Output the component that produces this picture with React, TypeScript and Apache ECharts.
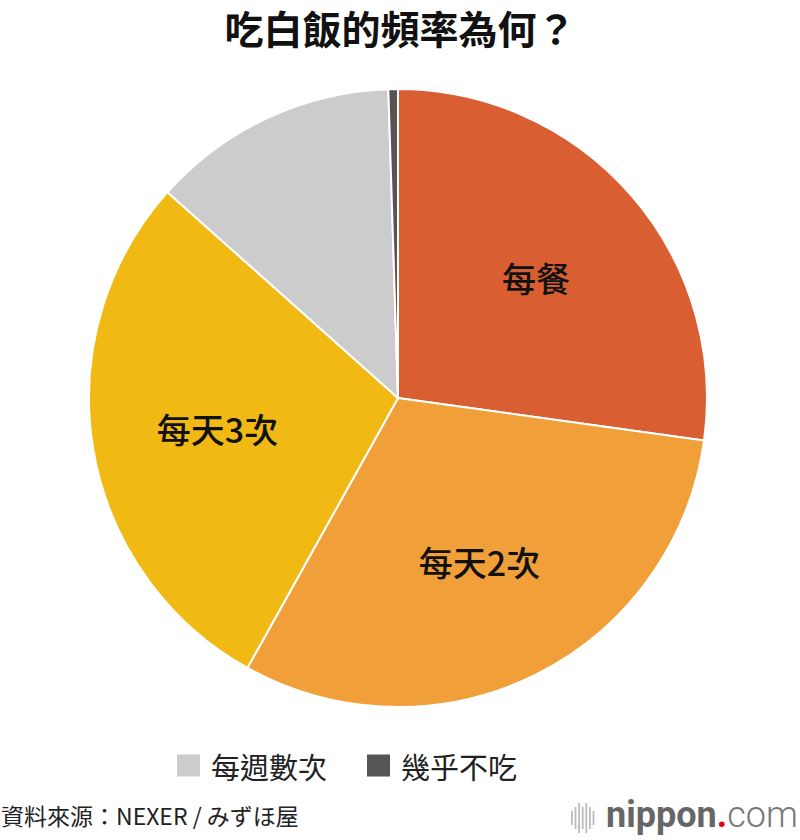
import React, { useEffect, useRef } from "react";
import * as echarts from "echarts";

const categories = ["每餐", "每天2次", "每天3次", "每週數次", "幾乎不吃"];
const values = [27.2, 30.9, 28.5, 12.9, 0.5];
const colors = ["#D95F32", "#F19F39", "#F0B914", "#CCCCCC", "#555555"];
const insideLabels = ["每餐", "每天2次", "每天3次"];
const legendItems = ["每週數次", "幾乎不吃"];
const titleText = "吃白飯的頻率為何？";
const sourceText = "資料來源：NEXER / みずほ屋";

const FONT = '"Noto Sans CJK TC", "Noto Sans CJK SC", sans-serif';

export default function App() {
  const ref = useRef<HTMLDivElement>(null);
  useEffect(() => {
    if (!ref.current) return;
    const chart = echarts.init(ref.current, null, { renderer: "svg" });
    const data = categories.map((c, i) => ({
      name: c,
      value: values[i],
      itemStyle: { color: colors[i] },
    }));
    const bars = [14, 22, 30, 22, 30, 22, 14];
    chart.setOption({
      animation: false,
      backgroundColor: "#ffffff",
      title: {
        text: titleText,
        left: "center",
        top: 2,
        padding: [2, 0, 0, 8],
        textStyle: { fontFamily: FONT, fontSize: 39, fontWeight: "bold", color: "#111111", lineHeight: 46 },
      },
      legend: {
        top: 751,
        left: 175,
        itemWidth: 25,
        itemHeight: 24,
        itemGap: 38,
        icon: "rect",
        selectedMode: false,
        padding: 0,
        textStyle: { fontFamily: FONT, fontSize: 29, color: "#222222", padding: [0, 0, 0, 5] },
        data: legendItems.map((n) => ({
          name: n,
          itemStyle: { color: colors[categories.indexOf(n)] },
        })),
      },
      graphic: [
        {
          type: "text",
          left: 1,
          top: 803,
          style: { text: sourceText, fontFamily: FONT, fontSize: 23, fill: "#222222" },
        },
        ...bars.map((h, i) => ({
          type: "rect",
          shape: { x: 571 + i * 3.6, y: 818 - h / 2, width: 1.8, height: h },
          style: { fill: "#bbbbbb" },
        })),
        {
          type: "text",
          left: 606,
          top: 797,
          style: {
            text: "{a|nippon}{b|.}{c|com}",
            rich: {
              a: { fontFamily: "Roboto", fontSize: 36, fontWeight: "bold", fill: "#666666" },
              b: { fontFamily: "Roboto", fontSize: 36, fontWeight: "bold", fill: "#E60012" },
              c: { fontFamily: "Roboto", fontSize: 36, fontWeight: 300, fill: "#777777" },
            },
          },
        },
      ],
      series: [
        {
          type: "pie",
          center: [398, 398],
          radius: [0, 309],
          startAngle: 90,
          clockwise: true,
          label: { show: false },
          labelLine: { show: false },
          itemStyle: { borderColor: "#ffffff", borderWidth: 2 },
          emphasis: { disabled: true },
          data,
        },
        {
          type: "pie",
          center: [398, 398],
          radius: [0, 360],
          startAngle: 90,
          clockwise: true,
          silent: true,
          avoidLabelOverlap: false,
          labelLine: { show: false },
          emphasis: { disabled: true },
          itemStyle: { color: "transparent", borderWidth: 0 },
          label: {
            show: true,
            position: "inside",
            fontFamily: FONT,
            fontSize: 34,
            fontWeight: 500,
            color: "#111111",
            formatter: (p: any) => (insideLabels.includes(p.name) ? p.name : ""),
          },
          data: categories.map((c, i) => ({
            name: c,
            value: values[i],
            itemStyle: { color: "rgba(0,0,0,0)" },
          })),
        },
      ],
    });
    return () => chart.dispose();
  }, []);
  return (
    <div
      ref={ref}
      style={{ width: 800, height: 840, position: "absolute", left: 0, top: 0 }}
    />
  );
}
